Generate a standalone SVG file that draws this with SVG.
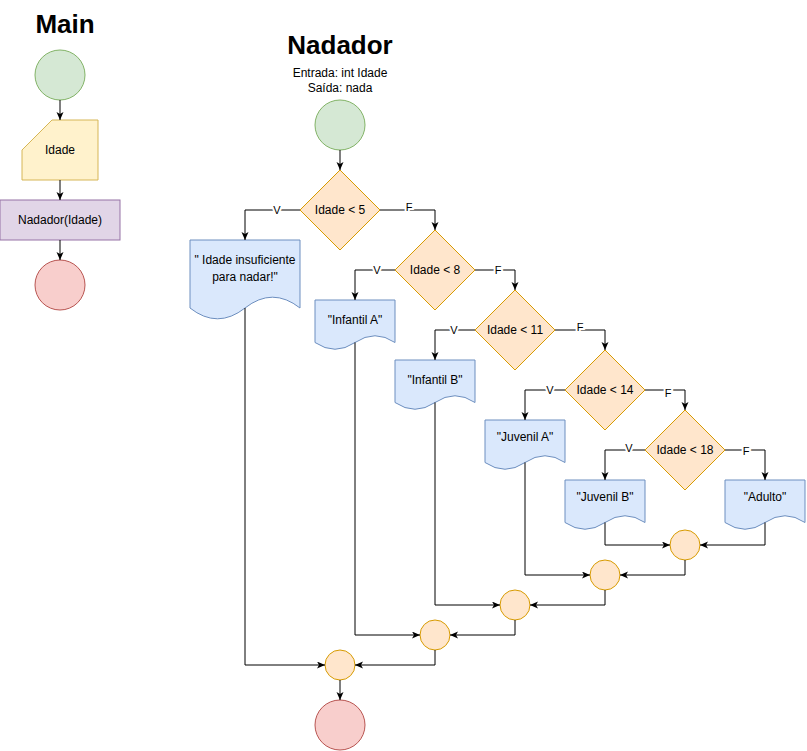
<svg xmlns="http://www.w3.org/2000/svg" width="807" height="751" viewBox="0 0 807 751">
<style>
text{font-family:"Liberation Sans",Arial,sans-serif;font-size:12px;fill:#000;text-anchor:middle}
.title{font-size:26px;font-weight:bold}
.green{fill:#d5e8d4;stroke:#82b366}
.yellow{fill:#fff2cc;stroke:#d6b656}
.purple{fill:#e1d5e7;stroke:#9673a6}
.red{fill:#f8cecc;stroke:#b85450}
.orange{fill:#ffe6cc;stroke:#d79b00}
.blue{fill:#dae8fc;stroke:#6c8ebf}
.edge{fill:none;stroke:#000;stroke-width:1;marker-end:url(#arr)}
.lbl{font-size:11px;paint-order:stroke;stroke:#fff;stroke-width:4px}
</style>
<defs>
<marker id="arr" markerUnits="userSpaceOnUse" markerWidth="9" markerHeight="8" refX="8" refY="3.5" orient="auto">
<path d="M0,0 L8,3.5 L0,7 L2,3.5 Z" fill="#000"/>
</marker>
</defs>
<rect width="807" height="751" fill="#fff"/>

<g id="main-title"><text class="title" x="65" y="33">Main</text></g>
<g id="main-start"><circle class="green" cx="60" cy="75" r="25"/></g>
<g id="main-input"><polygon class="yellow" points="22,150 52,120 98,120 98,180 22,180"/><text x="60" y="154">Idade</text></g>
<g id="main-call"><rect class="purple" x="0" y="200" width="120" height="40"/><text x="60" y="224">Nadador(Idade)</text></g>
<g id="main-end"><circle class="red" cx="60" cy="285" r="25"/></g>

<g id="nad-title"><text class="title" x="340" y="54">Nadador</text><text x="340" y="77">Entrada: int Idade</text><text x="340" y="92">Saída: nada</text></g>
<g id="nad-start"><circle class="green" cx="340" cy="125" r="25"/></g>
<g id="d1"><polygon class="orange" points="340,170 380,210 340,250 300,210"/><text x="340" y="214">Idade &lt; 5</text></g>
<g id="d2"><polygon class="orange" points="435,230 475,270 435,310 395,270"/><text x="435" y="274">Idade &lt; 8</text></g>
<g id="d3"><polygon class="orange" points="515,290 555,330 515,370 475,330"/><text x="515" y="334">Idade &lt; 11</text></g>
<g id="d4"><polygon class="orange" points="605,350 645,390 605,430 565,390"/><text x="605" y="394">Idade &lt; 14</text></g>
<g id="d5"><polygon class="orange" points="685,410 725,450 685,490 645,450"/><text x="685" y="454">Idade &lt; 18</text></g>

<g id="doc1"><path class="blue" d="M190,240 H300 V308 Q272.5,286.4 245,308 Q217.5,329.6 190,308 Z"/><text x="245" y="264">" Idade insuficiente</text><text x="245" y="281">para nadar!"</text></g>
<g id="doc2"><path class="blue" d="M315,300 H395 V342.5 Q375,329 355,342.5 Q335,356 315,342.5 Z"/><text x="355" y="324">"Infantil A"</text></g>
<g id="doc3"><path class="blue" d="M395,360 H475 V402.5 Q455,389 435,402.5 Q415,416 395,402.5 Z"/><text x="435" y="384">"Infantil B"</text></g>
<g id="doc4"><path class="blue" d="M485,420 H565 V462.5 Q545,449 525,462.5 Q505,476 485,462.5 Z"/><text x="525" y="441">"Juvenil A"</text></g>
<g id="doc5"><path class="blue" d="M565,480 H645 V522.5 Q625,509 605,522.5 Q585,536 565,522.5 Z"/><text x="605" y="501">"Juvenil B"</text></g>
<g id="doc6"><path class="blue" d="M725,480 H805 V522.5 Q785,509 765,522.5 Q745,536 725,522.5 Z"/><text x="765" y="501">"Adulto"</text></g>

<g id="m1"><circle class="orange" cx="685" cy="545" r="15"/></g>
<g id="m2"><circle class="orange" cx="605" cy="575" r="15"/></g>
<g id="m3"><circle class="orange" cx="515" cy="605" r="15"/></g>
<g id="m4"><circle class="orange" cx="435" cy="635" r="15"/></g>
<g id="m5"><circle class="orange" cx="340" cy="665" r="15"/></g>
<g id="nad-end"><circle class="red" cx="340" cy="725" r="25"/></g>

<g id="connectors">
<path class="edge" d="M60,100 V120"/>
<path class="edge" d="M60,180 V200"/>
<path class="edge" d="M60,240 V260"/>
<path class="edge" d="M340,150 V170"/>
<path class="edge" d="M300,210 H245 V240"/>
<path class="edge" d="M380,210 H435 V230"/>
<path class="edge" d="M395,270 H355 V300"/>
<path class="edge" d="M475,270 H515 V290"/>
<path class="edge" d="M475,330 H435 V360"/>
<path class="edge" d="M555,330 H605 V350"/>
<path class="edge" d="M565,390 H525 V420"/>
<path class="edge" d="M645,390 H685 V410"/>
<path class="edge" d="M645,450 H605 V480"/>
<path class="edge" d="M725,450 H765 V480"/>
<path class="edge" d="M605,522.5 V545 H670"/>
<path class="edge" d="M765,522.5 V545 H700"/>
<path class="edge" d="M525,462.5 V575 H590"/>
<path class="edge" d="M685,560 V575 H620"/>
<path class="edge" d="M435,402.5 V605 H500"/>
<path class="edge" d="M605,590 V605 H530"/>
<path class="edge" d="M355,342.5 V635 H420"/>
<path class="edge" d="M515,620 V635 H450"/>
<path class="edge" d="M245,308 V665 H325"/>
<path class="edge" d="M435,650 V665 H355"/>
<path class="edge" d="M340,680 V700"/>
<text class="lbl" x="277" y="214">V</text>
<text class="lbl" x="409" y="211">F</text>
<text class="lbl" x="377" y="274">V</text>
<text class="lbl" x="498" y="274">F</text>
<text class="lbl" x="454" y="334">V</text>
<text class="lbl" x="580" y="331">F</text>
<text class="lbl" x="550" y="394">V</text>
<text class="lbl" x="668" y="397">F</text>
<text class="lbl" x="629" y="452">V</text>
<text class="lbl" x="746" y="455">F</text>
</g>
</svg>
